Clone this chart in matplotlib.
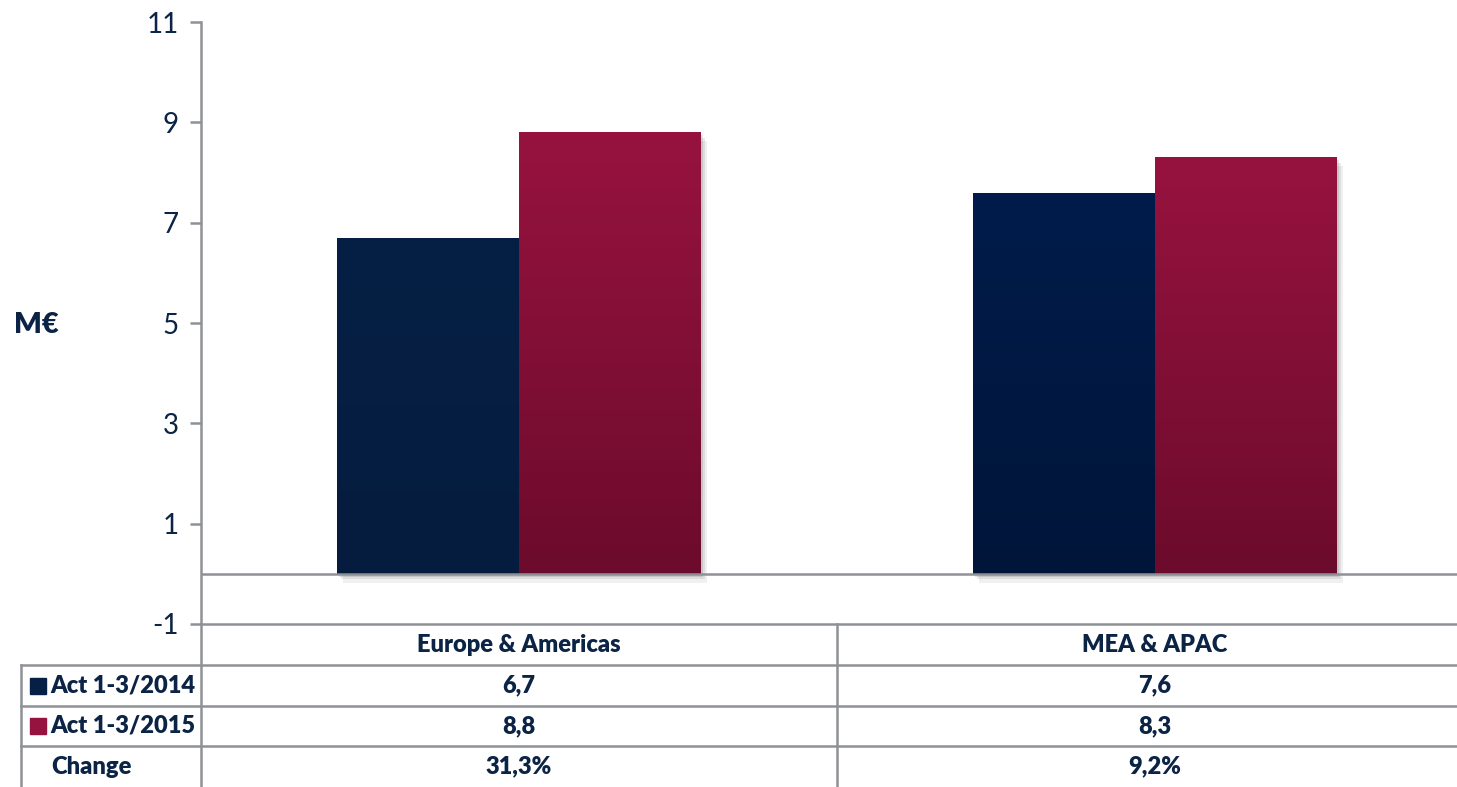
import numpy as np
import matplotlib.pyplot as plt
from matplotlib.colors import LinearSegmentedColormap
from matplotlib.patches import Rectangle
from matplotlib.transforms import blended_transform_factory

categories = ["Europe & Americas", "MEA & APAC"]
series_names = ["Act 1-3/2014", "Act 1-3/2015"]
act_2014 = [6.7, 7.6]
act_2015 = [8.8, 8.3]
change_labels = ["31,3%", "9,2%"]
yticks = [-1, 1, 3, 5, 7, 9, 11]

text_col = "#0B2345"
grid_col = "#8E9196"

# top/bottom colours of the gradient for each bar
grad_2014 = [("#062045", "#051C3E"), ("#011C4B", "#001539")]
grad_2015 = [("#97133F", "#6C0B2C"), ("#97133F", "#6C0B2C")]

plt.rcParams['font.family'] = ['Lato', 'DejaVu Sans']

fig = plt.figure(figsize=(14.57, 7.87), dpi=100)
W, H = 1457, 787
ax = fig.add_axes([201 / W, (H - 624) / H, 1272 / W, 602 / H])

bw = 182 / 636
x = np.arange(len(categories))


def grad_bar(xc, val, top, bottom):
    cmap = LinearSegmentedColormap.from_list("g", [bottom, top])
    x0 = xc - bw / 2
    # soft shadow
    for k, a in [(0.010, 0.06), (0.006, 0.08), (0.003, 0.10)]:
        sh = Rectangle((x0 + k, -k * 18), bw, val, color="#000000", alpha=a,
                       lw=0, zorder=1)
        ax.add_patch(sh)
    rect = Rectangle((x0, 0), bw, val, facecolor="none", lw=0, zorder=3)
    ax.add_patch(rect)
    g = np.linspace(0, 1, 256).reshape(-1, 1)
    im = ax.imshow(g, cmap=cmap, aspect="auto", origin="lower",
                   extent=(x0, x0 + bw, 0, val), zorder=2)
    im.set_clip_path(rect)


for i in range(len(categories)):
    grad_bar(x[i] - bw / 2, act_2014[i], *grad_2014[i])
    grad_bar(x[i] + bw / 2, act_2015[i], *grad_2015[i])

ax.set_xlim(-0.5, 1.5)
ax.set_ylim(-1, 11)
ax.set_yticks(yticks)
ax.set_yticklabels([str(t) for t in yticks], fontsize=20, color=text_col)
ax.set_xticks([])
for s in ["top", "right", "bottom"]:
    ax.spines[s].set_visible(False)
ax.spines["left"].set_color(grid_col)
ax.spines["left"].set_linewidth(1.8)
ax.tick_params(axis="y", length=8, width=1.8, color=grid_col, pad=8)
ax.axhline(0, color=grid_col, lw=1.8, zorder=4)
ax.axhline(-1, color=grid_col, lw=1.8, zorder=4, clip_on=False)

fig.text(14 / W, 1 - 325 / H, "M€", fontsize=21, fontweight="heavy",
         color=text_col, va="center", ha="left")

# data table under the chart
tr = blended_transform_factory(ax.transData, fig.transFigure)
row_y = [624, 665, 706, 746, 787]
fy = [1 - y / H for y in row_y]
left = -0.5 - 180 / 636
right = 1.5
for y in fy[1:4]:
    ax.plot([left, right], [y, y], transform=tr, color=grid_col, lw=1.8,
            clip_on=False)
ax.plot([left, left], [fy[1], fy[4] - 0.01], transform=tr, color=grid_col,
        lw=1.8, clip_on=False)
ax.plot([-0.5, -0.5], [fy[0], fy[4] - 0.01], transform=tr, color=grid_col,
        lw=1.8, clip_on=False)
ax.plot([0.5, 0.5], [fy[0], fy[4] - 0.01], transform=tr, color=grid_col,
        lw=1.8, clip_on=False)

rows = [categories,
        [f"{v:.1f}".replace(".", ",") for v in act_2014],
        [f"{v:.1f}".replace(".", ",") for v in act_2015],
        change_labels]
fs = 17
for r, vals in enumerate(rows):
    yc = (fy[r] + fy[r + 1]) / 2
    for i, v in enumerate(vals):
        ax.text(x[i], yc, v, transform=tr, ha="center", va="center",
                fontsize=fs, fontweight="heavy", color=text_col)

sq_x = left + 17 / 636
for r, (name, cols) in enumerate(zip(series_names, [grad_2014, grad_2015])):
    yc = (fy[r + 1] + fy[r + 2]) / 2
    ax.plot([sq_x], [yc], transform=tr, marker="s", ms=11, color=cols[0][0],
            clip_on=False, lw=0)
    ax.text(left + 29 / 636, yc, name, transform=tr, ha="left", va="center",
            fontsize=fs, fontweight="heavy", color=text_col)
ax.text((left - 0.5) / 2 - 20 / 636, (fy[3] + fy[4]) / 2, "Change",
        transform=tr, ha="center", va="center", fontsize=fs,
        fontweight="heavy", color=text_col)

fig.savefig("out.png", dpi=100)
